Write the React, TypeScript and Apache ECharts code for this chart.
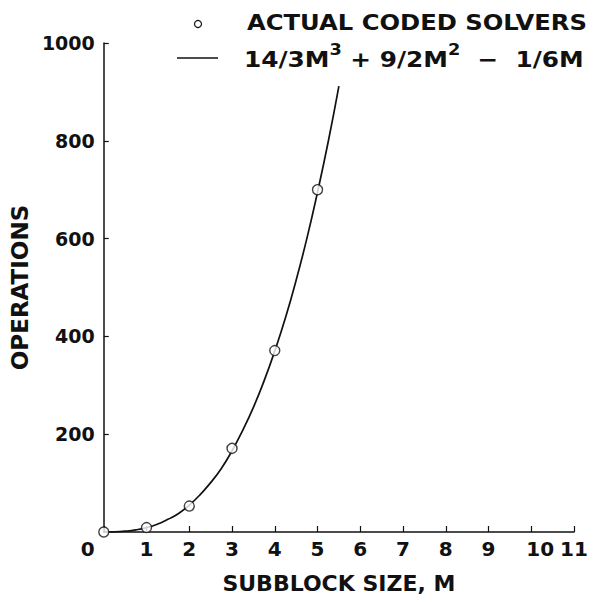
import React, { useEffect, useRef } from "react";
import * as echarts from "echarts";

// ---- data ----
const xTickValues = [0, 1, 2, 3, 4, 5, 6, 7, 8, 9, 10, 11];
const yTickValues = [200, 400, 600, 800, 1000];

// "ACTUAL CODED SOLVERS" (open circles)
const codedM = [0, 1, 2, 3, 4, 5];
const codedOps = [0, 9, 53, 171, 371, 700];

// fitted curve 14/3M^3 + 9/2M^2 - 1/6M
const curveM = [0, 0.25, 0.5, 0.75, 1, 1.25, 1.5, 1.75, 2, 2.25, 2.5, 2.75, 3, 3.25, 3.5, 3.75, 4, 4.25, 4.5, 4.75, 5, 5.25, 5.5];
const curveOps = [0, 0.3, 1.6, 4.3, 9, 16, 26, 38, 55, 76, 101, 130, 166, 208, 255, 309, 370, 438, 515, 600, 695, 798, 912];

const legendLabels = ["ACTUAL CODED SOLVERS", "14/3M", "3", " + 9/2M", "2", "  \u2212  1/6M"];
const xAxisTitle = "SUBBLOCK SIZE, M";
const yAxisTitle = "OPERATIONS";

const FONT = "'DejaVu Sans', 'Liberation Sans', sans-serif";
const INK = "#111";

export default function App() {
  const ref = useRef<HTMLDivElement>(null);

  useEffect(() => {
    if (!ref.current) return;
    const chart = echarts.init(ref.current, null, { renderer: "svg" });

    const coded = codedM.map((m, i) => [m, codedOps[i]]);
    const curve = curveM.map((m, i) => [m, curveOps[i]]);

    const option: any = {
      animation: false,
      backgroundColor: "#fff",
      textStyle: { fontFamily: FONT },
      grid: { left: 101, right: 19, top: 43, bottom: 71 },
      xAxis: {
        type: "value",
        min: 0,
        max: 11,
        interval: 1,
        name: xAxisTitle,
        nameLocation: "middle",
        nameGap: 40,
        nameTextStyle: { fontFamily: FONT, fontSize: 22, fontWeight: "bold", color: INK },
        axisLine: { show: true, onZero: false, lineStyle: { color: INK, width: 1.5 } },
        axisTick: { show: true, inside: true, length: 6, lineStyle: { color: INK, width: 1.2 } },
        splitLine: { show: false },
        axisLabel: {
          margin: 7,
          fontFamily: FONT,
          fontSize: 20,
          fontWeight: "bold",
          color: INK,
          formatter: (v: number) => {
            if (v === 0) return "{z|0}";
            if (v === 10) return "{t|10}";
            return xTickValues.includes(v) ? String(v) : "";
          },
          rich: {
            z: { fontFamily: FONT, fontSize: 20, fontWeight: "bold", color: INK, padding: [0, 32, 0, 0] },
            t: { fontFamily: FONT, fontSize: 20, fontWeight: "bold", color: INK, padding: [0, 0, 0, 18] },
          },
        },
      },
      yAxis: {
        type: "value",
        min: 0,
        max: 1000,
        interval: 200,
        name: yAxisTitle,
        nameLocation: "middle",
        nameGap: 63,
        nameTextStyle: { fontFamily: FONT, fontSize: 23, fontWeight: "bold", color: INK },
        axisLine: { show: true, onZero: false, lineStyle: { color: INK, width: 1.5 } },
        axisTick: { show: true, inside: true, length: 5, lineStyle: { color: INK, width: 1.2 } },
        splitLine: { show: false },
        axisLabel: {
          showMinLabel: false,
          margin: 9,
          fontFamily: FONT,
          fontSize: 19,
          fontWeight: "bold",
          color: INK,
          formatter: (v: number) => (yTickValues.includes(v) ? String(v) : ""),
        },
      },
      series: [
        {
          type: "line",
          data: curve,
          smooth: true,
          showSymbol: false,
          lineStyle: { color: INK, width: 1.7 },
          z: 2,
        },
        {
          type: "scatter",
          data: coded,
          symbol: "circle",
          symbolSize: 10,
          clip: false,
          itemStyle: { color: "#fff", borderColor: INK, borderWidth: 1.4 },
          z: 3,
        },
      ],
      graphic: [
        {
          type: "circle",
          shape: { cx: 198, cy: 24, r: 3.5 },
          style: { fill: "#fff", stroke: INK, lineWidth: 1.2 },
        },
        {
          type: "line",
          shape: { x1: 177, y1: 58, x2: 218, y2: 58 },
          style: { stroke: INK, lineWidth: 1.5 },
        },
        {
          type: "text",
          x: 247,
          y: 23,
          scaleX: 1.155,
          style: {
            text: legendLabels[0],
            fontFamily: FONT,
            fontSize: 21,
            fontWeight: "bold",
            fill: INK,
            align: "left",
            verticalAlign: "middle",
          },
        },
        {
          type: "text",
          x: 244,
          y: 56,
          scaleX: 1.18,
          style: {
            text: `{n|${legendLabels[1]}}{s|${legendLabels[2]}}{n|${legendLabels[3]}}{s|${legendLabels[4]}}{n|${legendLabels[5]}}`,
            fontFamily: FONT,
            fontSize: 21,
            fontWeight: "bold",
            fill: INK,
            align: "left",
            verticalAlign: "middle",
            rich: {
              n: { fontFamily: FONT, fontSize: 21, fontWeight: "bold", fill: INK, lineHeight: 28, verticalAlign: "bottom" },
              s: { fontFamily: FONT, fontSize: 15, fontWeight: "bold", fill: INK, lineHeight: 28, verticalAlign: "top" },
            },
          },
        },
      ],
    };

    chart.setOption(option);
    return () => chart.dispose();
  }, []);

  return (
    <div
      ref={ref}
      style={{ position: "fixed", left: 0, top: 0, width: 593, height: 603, background: "#fff" }}
    />
  );
}
